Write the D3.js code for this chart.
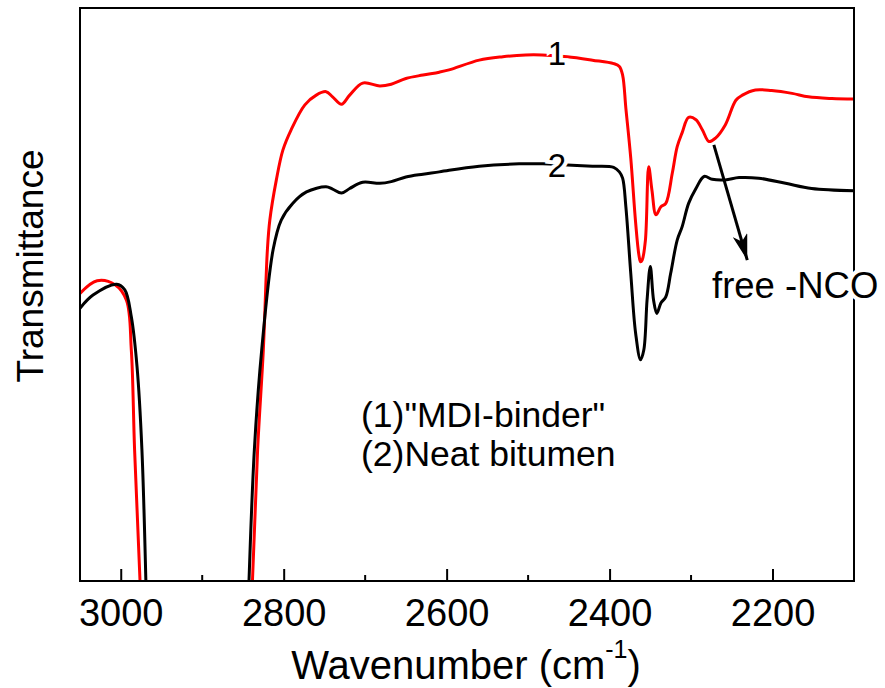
<!DOCTYPE html>
<html lang="en">
<head>
    <meta charset="UTF-8">
    <title>FTIR spectra</title>
    <style>
        body { margin: 0; background: #fff; }
        text { font-family: "Liberation Sans", Arial, sans-serif; fill: #000; }
    </style>
</head>
<body>
    <script src="https://cdn.jsdelivr.net/npm/d3@7/dist/d3.min.js"></script>
    <script>
        // wavenumber (cm-1) and transmittance (a.u.)
        var redWave = [3050, 3029, 3007, 2993, 2987, 2983, 2974, 2962, 2850, 2840, 2832, 2825, 2820, 2817, 2809, 2801,
            2791, 2774, 2760, 2748, 2740, 2729, 2719, 2703, 2682, 2668, 2650, 2629, 2609, 2597, 2560, 2531,
            2503, 2483, 2452, 2421, 2395, 2388, 2384, 2380, 2374, 2368, 2364, 2362, 2360, 2356, 2352, 2348,
            2343, 2337, 2331, 2323, 2317, 2311, 2303, 2294, 2286, 2278, 2270, 2258, 2245, 2237, 2221, 2201,
            2176, 2156, 2127, 2100];
        var redT = [50.2, 52.4, 51.7, 49.0, 40.3, 22.9, -8, -60, -60, -6, 22.9, 40.3, 57.8, 63.0, 70.0, 75.2,
            78.7, 83.1, 84.8, 85.4, 84.5, 83.2, 84.8, 86.9, 86.4, 86.7, 87.7, 88.3, 88.8, 89.2, 90.9, 91.5,
            91.8, 91.8, 91.5, 90.9, 90.3, 89.8, 88.3, 82.5, 73.8, 62.5, 56.9, 55.7, 56.0, 59.5, 72.3, 68.2,
            63.9, 65.3, 65.9, 71.2, 75.8, 78.2, 80.9, 80.5, 78.7, 76.7, 77.3, 79.6, 83.9, 84.8, 85.7, 85.6,
            85.1, 84.5, 84.2, 84.1];
        var blackWave = [3050, 3034, 3005, 2995, 2987, 2980, 2974, 2968, 2958, 2855, 2844, 2836, 2827, 2813, 2803,
            2789, 2772, 2748, 2740, 2729, 2719, 2703, 2682, 2668, 2650, 2629, 2609, 2597, 2560, 2511,
            2482, 2452, 2421, 2395, 2388, 2384, 2380, 2374, 2368, 2362, 2358, 2354, 2350, 2346, 2342,
            2337, 2331, 2325, 2317, 2311, 2303, 2294, 2284, 2274, 2258, 2241, 2217, 2184, 2152, 2100];
        var blackT = [47.6, 49.9, 51.8, 50.8, 46.1, 37.4, 22.9, -6, -60, -60, -6, 22.9, 40.3, 57.8, 63.0,
            65.9, 67.9, 68.8, 68.4, 67.7, 68.5, 69.6, 69.4, 69.7, 70.5, 71.0, 71.4, 71.7, 72.4, 72.8,
            72.8, 72.6, 72.4, 72.2, 71.4, 70.3, 65.3, 53.7, 43.2, 38.6, 40.3, 49.0, 54.9, 49.0, 46.7,
            48.5, 49.6, 53.7, 59.5, 61.8, 65.9, 68.5, 70.6, 70.1, 70.0, 70.4, 70.3, 69.4, 68.5, 68.1];
        var majorTicks = [3000, 2800, 2600, 2400, 2200];
        var minorTicks = [2900, 2700, 2500, 2300];

        var width = 885, height = 688;
        var margin = {left: 80, right: 31, top: 8, bottom: 107};

        var svg = d3.select('body').append('svg')
            .attr('width', width)
            .attr('height', height);

        var x = d3.scaleLinear()
            .domain([3050, 2100])
            .range([margin.left, width - margin.right]);
        var y = d3.scaleLinear()
            .domain([0, 100])
            .range([height - margin.bottom, margin.top]);

        svg.append('clipPath').attr('id', 'plot')
            .append('rect')
            .attr('x', margin.left).attr('y', margin.top)
            .attr('width', width - margin.left - margin.right)
            .attr('height', height - margin.top - margin.bottom);

        var line = d3.line()
            .x(function(d) { return x(d[0]); })
            .y(function(d) { return y(d[1]); })
            .curve(d3.curveCatmullRom.alpha(0.5));

        var g = svg.append('g').attr('clip-path', 'url(#plot)');
        g.append('path')
            .attr('d', line(d3.zip(redWave, redT)))
            .attr('fill', 'none')
            .attr('stroke', '#ff0000')
            .attr('stroke-width', 3);
        g.append('path')
            .attr('d', line(d3.zip(blackWave, blackT)))
            .attr('fill', 'none')
            .attr('stroke', '#000')
            .attr('stroke-width', 3);

        // frame
        svg.append('rect')
            .attr('x', margin.left).attr('y', margin.top)
            .attr('width', width - margin.left - margin.right)
            .attr('height', height - margin.top - margin.bottom)
            .attr('fill', 'none')
            .attr('stroke', '#000')
            .attr('stroke-width', 2);

        // bottom axis, ticks inward
        var xAxis = svg.append('g')
            .attr('transform', 'translate(0,' + (height - margin.bottom) + ')')
            .call(d3.axisBottom(x).tickValues(majorTicks).tickSize(-12).tickSizeOuter(0).tickPadding(18).tickFormat(d3.format('d')));
        xAxis.select('.domain').remove();
        xAxis.selectAll('line').attr('stroke-width', 2);
        xAxis.selectAll('text')
            .style('font-size', '38px')
            .style('font-family', '"Liberation Sans", Arial, sans-serif');
        svg.append('g')
            .attr('transform', 'translate(0,' + (height - margin.bottom) + ')')
            .selectAll('line')
            .data(minorTicks)
            .enter()
            .append('line')
            .attr('x1', function(d) { return x(d); })
            .attr('x2', function(d) { return x(d); })
            .attr('y1', 0).attr('y2', -6)
            .attr('stroke', '#000')
            .attr('stroke-width', 2);

        // axis titles
        var xt = svg.append('text')
            .attr('x', 466).attr('y', 679)
            .attr('text-anchor', 'middle')
            .style('font-size', '40px');
        xt.append('tspan').text('Wavenumber (cm');
        xt.append('tspan').attr('dy', -21).style('font-size', '25px').text('-1');
        xt.append('tspan').attr('dy', 21).text(')');

        svg.append('text')
            .attr('transform', 'translate(43,266) rotate(-90)')
            .attr('text-anchor', 'middle')
            .style('font-size', '37px')
            .text('Transmittance');

        // curve labels
        svg.selectAll('.num')
            .data([['1', 65], ['2', 177]])
            .enter()
            .append('text')
            .attr('x', 557)
            .attr('y', function(d) { return d[1]; })
            .attr('text-anchor', 'middle')
            .style('font-size', '33px')
            .style('stroke', '#fff')
            .style('stroke-width', 8)
            .style('paint-order', 'stroke')
            .text(function(d) { return d[0]; });

        // legend
        svg.append('text').attr('x', 361).attr('y', 427).style('font-size', '35.5px').text('(1)"MDI-binder"');
        svg.append('text').attr('x', 361).attr('y', 466).style('font-size', '35.5px').text('(2)Neat bitumen');

        // arrow to free -NCO
        svg.append('defs').append('marker')
            .attr('id', 'head')
            .attr('viewBox', '0 0 10 10')
            .attr('preserveAspectRatio', 'none')
            .attr('refX', 10).attr('refY', 5)
            .attr('markerWidth', 26).attr('markerHeight', 15)
            .attr('markerUnits', 'userSpaceOnUse')
            .attr('orient', 'auto')
            .append('path')
            .attr('d', 'M0,0 L10,5 L0,10 L2.5,5 Z')
            .attr('fill', '#000');
        svg.append('line')
            .attr('x1', x(2272)).attr('y1', y(76.1))
            .attr('x2', x(2231)).attr('y2', y(56.0))
            .attr('stroke', '#000')
            .attr('stroke-width', 3)
            .attr('marker-end', 'url(#head)');
        svg.append('text')
            .attr('x', 712).attr('y', 298)
            .style('font-size', '36.5px')
            .style('stroke', '#fff')
            .style('stroke-width', 8)
            .style('paint-order', 'stroke')
            .text('free -NCO');
    </script>
</body>
</html>
